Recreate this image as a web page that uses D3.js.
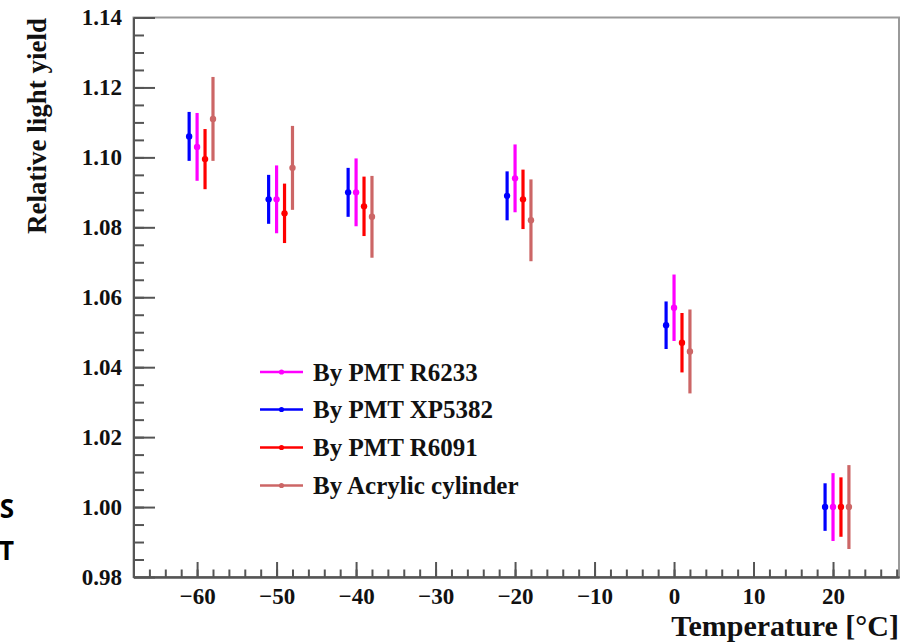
<!DOCTYPE html>
<html>
    <head>
        <meta charset="utf-8">
        <title>Relative light yield vs temperature</title>
        <style type="text/css">
            body {
                margin: 0;
                background-color: #ffffff;
            }

            svg {
                display: block;
            }
        </style>
        <script src="https://cdn.jsdelivr.net/npm/d3@7"></script>
    </head>

    <body>
        <svg id="drawing-place" width="907" height="643"></svg>

        <script>

            // tick labels
            const xTicks = [-60, -50, -40, -30, -20, -10, 0, 10, 20];
            const yTicks = [0.98, 1.00, 1.02, 1.04, 1.06, 1.08, 1.10, 1.12, 1.14];

            // series (temperature, value, error)
            const names = ["By PMT R6233", "By PMT XP5382", "By PMT R6091", "By Acrylic cylinder"];
            const colours = ["#ff00ff", "#0000ff", "#ff0000", "#cc6666"];

            const r6233T   = [-60, -50, -40, -20, 0, 20];
            const r6233V   = [1.103, 1.088, 1.090, 1.094, 1.057, 1.000];
            const r6233E   = [0.0097, 0.0097, 0.0097, 0.0097, 0.0095, 0.0097];

            const xp5382T  = [-61, -51, -41, -21, -1, 19];
            const xp5382V  = [1.106, 1.088, 1.090, 1.089, 1.052, 1.000];
            const xp5382E  = [0.0070, 0.0070, 0.0070, 0.0070, 0.0068, 0.0068];

            const r6091T   = [-59, -49, -39, -19, 1, 21];
            const r6091V   = [1.0995, 1.084, 1.086, 1.088, 1.047, 1.000];
            const r6091E   = [0.0086, 0.0085, 0.0085, 0.0085, 0.0085, 0.0085];

            const acrylT   = [-58, -48, -38, -18, 2, 22];
            const acrylV   = [1.111, 1.097, 1.083, 1.082, 1.0445, 1.000];
            const acrylE   = [0.0120, 0.0120, 0.0117, 0.0117, 0.0120, 0.0120];

            const series = [
                [r6233T, r6233V, r6233E],
                [xp5382T, xp5382V, xp5382E],
                [r6091T, r6091V, r6091E],
                [acrylT, acrylV, acrylE]
            ];

            const serif = "'Liberation Serif', 'Times New Roman', serif";
            const frameL = 133.5, frameR = 899, frameT = 17.5, frameB = 577;

            const x = d3.scaleLinear().domain([-68, 28.3]).range([frameL, frameR]);
            const y = d3.scaleLinear().domain([0.98, 1.14]).range([frameB, frameT]);

            let svg = d3.select("#drawing-place");

            // frame
            svg.append("rect")
                .attr("x", frameL)
                .attr("y", frameT)
                .attr("width", frameR - frameL)
                .attr("height", frameB - frameT)
                .attr("fill", "none")
                .attr("stroke", "#9a9a9a")
                .attr("stroke-width", 2);

            // minor ticks first, then the labelled axes on top
            svg.append("g")
                .attr("transform", `translate(${frameL},0)`)
                .call(d3.axisLeft(y)
                    .tickValues(d3.range(0.985, 1.14, 0.005))
                    .tickSize(-10.5)
                    .tickSizeOuter(0)
                    .tickFormat(""));

            svg.append("g")
                .attr("transform", `translate(0,${frameB})`)
                .call(d3.axisBottom(x)
                    .tickValues(d3.range(-66, 28.1, 2))
                    .tickSize(-7.5)
                    .tickSizeOuter(0)
                    .tickFormat(""));

            svg.append("g")
                .attr("class", "yaxis")
                .attr("transform", `translate(${frameL},0)`)
                .call(d3.axisLeft(y)
                    .tickValues(yTicks)
                    .tickSize(-21.5)
                    .tickSizeOuter(0)
                    .tickPadding(11.5)
                    .tickFormat(d3.format(".2f")));

            svg.append("g")
                .attr("class", "xaxis")
                .attr("transform", `translate(0,${frameB})`)
                .call(d3.axisBottom(x)
                    .tickValues(xTicks)
                    .tickSize(-15)
                    .tickSizeOuter(0)
                    .tickPadding(10.5)
                    .tickFormat(d3.format("d")));

            svg.selectAll(".domain, .tick line")
                .attr("stroke", "#555555")
                .attr("stroke-width", 2);

            svg.selectAll(".yaxis, .xaxis")
                .attr("font-family", serif)
                .attr("font-size", 23)
                .attr("font-weight", "bold");

            svg.selectAll(".tick text")
                .attr("fill", "#111111");

            // axis titles
            svg.append("text")
                .attr("transform", "translate(46,18) rotate(-90)")
                .attr("text-anchor", "end")
                .attr("font-family", serif)
                .attr("font-weight", "bold")
                .attr("font-size", 27)
                .attr("fill", "#111111")
                .text("Relative light yield");

            svg.append("text")
                .attr("x", 899)
                .attr("y", 636)
                .attr("text-anchor", "end")
                .attr("font-family", serif)
                .attr("font-weight", "bold")
                .attr("font-size", 30)
                .attr("fill", "#111111")
                .text("Temperature [°C]");

            // error bars and markers
            series.forEach((s, i) => {
                let g = svg.append("g");
                let pts = s[0].map((t, j) => ({ t: t, v: s[1][j], e: s[2][j] }));

                g.selectAll("line")
                    .data(pts)
                    .enter()
                    .append("line")
                    .attr("x1", d => x(d.t))
                    .attr("x2", d => x(d.t))
                    .attr("y1", d => y(d.v - d.e))
                    .attr("y2", d => y(d.v + d.e))
                    .attr("stroke", colours[i])
                    .attr("stroke-width", 3.2);

                g.selectAll("circle")
                    .data(pts)
                    .enter()
                    .append("circle")
                    .attr("cx", d => x(d.t))
                    .attr("cy", d => y(d.v))
                    .attr("r", 3.2)
                    .attr("fill", colours[i]);
            });

            // legend
            const legendY = [372, 409.5, 447.5, 485.5];

            names.forEach((n, i) => {
                svg.append("line")
                    .attr("x1", 260)
                    .attr("x2", 303)
                    .attr("y1", legendY[i])
                    .attr("y2", legendY[i])
                    .attr("stroke", colours[i])
                    .attr("stroke-width", 2.5);

                svg.append("circle")
                    .attr("cx", 281.5)
                    .attr("cy", legendY[i])
                    .attr("r", 2.6)
                    .attr("fill", colours[i]);

                svg.append("text")
                    .attr("x", 313)
                    .attr("y", legendY[i] + 8.5)
                    .attr("font-family", serif)
                    .attr("font-weight", "bold")
                    .attr("font-size", 25)
                    .attr("fill", "#111111")
                    .text(n);
            });

            // cut-off letters of the neighbouring slide text
            [["S", 518], ["T", 560]].forEach(d => {
                svg.append("text")
                    .attr("x", 14)
                    .attr("y", d[1])
                    .attr("text-anchor", "end")
                    .attr("font-family", "'Open Sans', 'Liberation Sans', sans-serif")
                    .attr("font-weight", "bold")
                    .attr("font-size", 26)
                    .attr("fill", "#000000")
                    .text(d[0]);
            });

        </script>
    </body>
</html>
